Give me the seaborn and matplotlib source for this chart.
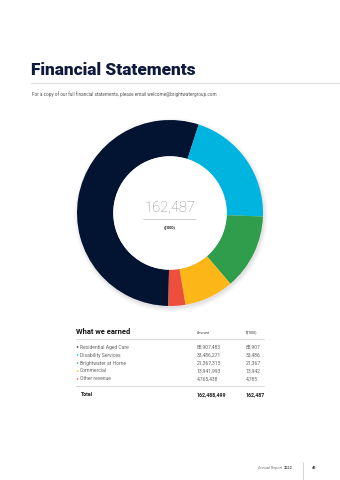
import matplotlib
matplotlib.use("Agg")
import matplotlib.pyplot as plt
import seaborn as sns
from matplotlib.patches import Circle
from matplotlib.lines import Line2D

sns.set_theme(style="white")
plt.rcParams['font.family'] = ['Roboto', 'DejaVu Sans']

# ---- data ----
categories = ["Residential Aged Care", "Disability Services", "Brightwater at Home",
              "Commercial", "Other revenue"]
amounts = ["88,907,483", "33,486,271", "21,367,315", "13,941,993", "4,765,438"]
thousands = [88907, 33486, 21367, 13942, 4785]
total_amount = "162,488,499"
total_thousands = "162,487"
colors = ["#031433", "#00b4e0", "#2f9d4c", "#fcb617", "#ee4e3c"]

W, H = 340, 480
fig = plt.figure(figsize=(W / 100, H / 100), dpi=100)
fig.patch.set_facecolor("white")

def fx(x):
    return x / W

def fy(y):
    return 1 - y / H

# overlay axis for lines
ov = fig.add_axes([0, 0, 1, 1])
ov.set_xlim(0, W)
ov.set_ylim(H, 0)
ov.axis("off")

# ---- title ----
fig.text(fx(31), fy(75), "Financial Statements", fontsize=12.4, fontweight="black",
         color="#0d1a3b", ha="left", va="baseline")
ov.plot([31, 340], [83, 83], color="#dcdcdc", lw=0.8)
fig.text(fx(32), fy(94), "For a copy of our full financial statements, please email welcome@brightwatergroup.com",
         fontsize=3.3, color="#555555", ha="left", va="center")

# ---- donut ----
cx, cy, r = 170, 213, 93
# soft shadow
for i, a in enumerate([0.02, 0.025, 0.03, 0.035]):
    ov.add_patch(Circle((cx + 1, cy + 2), r + 4 - i * 1.2, color="#000000", alpha=a, lw=0, zorder=0))

pax = fig.add_axes([fx(cx - r), fy(cy + r), 2 * r / W, 2 * r / H])
pax.pie(thousands, colors=colors, startangle=-91, counterclock=False, radius=1,
        wedgeprops=dict(width=0.39, edgecolor="none", linewidth=0))
pax.add_patch(Circle((0, 0), 0.61, color="white", lw=0, zorder=5))
pax.set_xlim(-1, 1)
pax.set_ylim(-1, 1)
pax.set_aspect("auto")
pax.axis("off")

fig.text(fx(cx), fy(208), total_thousands, fontsize=10.5, fontweight="light",
         color="#8a8a8a", ha="center", va="center")
fig.add_artist(Line2D([fx(143), fx(196)], [fy(218.5), fy(218.5)], color="#c8c8c8", lw=0.6,
                      transform=fig.transFigure, zorder=20))
fig.text(fx(cx), fy(227), "($'000)", fontsize=2.8, fontweight="bold",
         color="#222222", ha="center", va="center")

# ---- table ----
x_lab, x_amt, x_k = 76, 197, 246
fig.text(fx(x_lab), fy(332), "What we earned", fontsize=5.4, fontweight="bold",
         color="#111111", ha="left", va="center")
fig.text(fx(x_amt), fy(333), "Amount", fontsize=2.6, color="#333333", ha="left", va="center")
fig.text(fx(x_k), fy(333), "($'000)", fontsize=2.6, color="#333333", ha="left", va="center")
ov.plot([76, 264], [339, 339], color="#d8d8d8", lw=0.7)

row_y = [347, 355, 363, 371, 379]
for cat, amt, k, c, y in zip(categories, amounts, thousands, colors, row_y):
    ov.add_patch(Circle((77.5, y), 0.9, color=c, alpha=0.75, lw=0))
    fig.text(fx(80), fy(y), cat, fontsize=3.6, color="#666666", ha="left", va="center")
    fig.text(fx(x_amt), fy(y), amt, fontsize=3.6, color="#666666", ha="left", va="center")
    fig.text(fx(x_k), fy(y), f"{k:,}", fontsize=3.6, color="#666666", ha="left", va="center")

ov.plot([76, 264], [386, 386], color="#d8d8d8", lw=0.7)
fig.text(fx(81), fy(395), "Total", fontsize=3.8, fontweight="bold", color="#222222", ha="left", va="center")
fig.text(fx(x_amt), fy(395), total_amount, fontsize=3.8, fontweight="bold", color="#222222", ha="left", va="center")
fig.text(fx(x_k), fy(395), total_thousands, fontsize=3.8, fontweight="bold", color="#222222", ha="left", va="center")

# ---- footer ----
fig.text(fx(282), fy(468), "Annual Report", fontsize=2.8, color="#777777", ha="right", va="center")
fig.text(fx(283.5), fy(468), "2022", fontsize=2.8, fontweight="bold", color="#555555", ha="left", va="center")
ov.plot([303, 303], [462, 480], color="#cccccc", lw=0.6)
fig.text(fx(312), fy(468), "45", fontsize=2.8, fontweight="bold", color="#333333", ha="left", va="center")

fig.savefig("out.png", dpi=100, facecolor="white")
